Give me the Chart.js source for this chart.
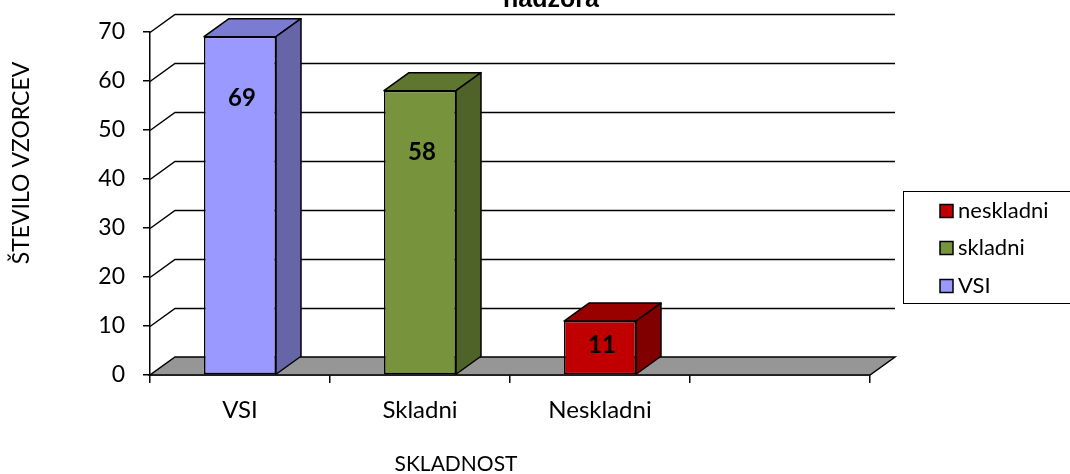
<!DOCTYPE html>
<html>
<head>
<meta charset="utf-8">
<script src="https://cdn.jsdelivr.net/npm/chart.js@4"></script>
<style>
  html, body { margin: 0; padding: 0; background: #fff; }
  #wrap { width: 1070px; height: 474px; position: relative; }
</style>
</head>
<body>
<div id="wrap"><canvas id="chart"></canvas></div>
<script>
// data
const categories = ["VSI", "Skladni", "Neskladni", ""];
const seriesNames = ["VSI", "skladni", "neskladni"];
const vsiValues = [69, null, null, null];
const skladniValues = [null, 58, null, null];
const neskladniValues = [null, null, 11, null];
const yTicks = [0, 10, 20, 30, 40, 50, 60, 70];

// styles (front, top, side)
const frontColors = ["#9999FF", "#77933C", "#C00000"];
const topColors = ["#7B7BD3", "#5F7630", "#990000"];
const sideColors = ["#6565A8", "#4F6228", "#800000"];

const DEPTH_X = 25;
const DEPTH_Y = 18;
const FONT = "Lato, 'Open Sans', sans-serif";

const threeD = {
    id: "threeD",
    beforeDatasetsDraw(chart) {
        const ctx = chart.ctx;
        const a = chart.chartArea;
        const y = chart.scales.y;
        ctx.save();
        // floor
        ctx.beginPath();
        ctx.moveTo(a.left, a.bottom);
        ctx.lineTo(a.right, a.bottom);
        ctx.lineTo(a.right + DEPTH_X, a.bottom - DEPTH_Y);
        ctx.lineTo(a.left + DEPTH_X, a.bottom - DEPTH_Y);
        ctx.closePath();
        ctx.fillStyle = "#969696";
        ctx.fill();
        ctx.strokeStyle = "#000";
        ctx.lineWidth = 1.5;
        ctx.stroke();
        // back wall grid + side wall diagonals
        yTicks.forEach((v) => {
            if (v === 0) return;
            const py = Math.round(y.getPixelForValue(v)) + 0.5;
            ctx.beginPath();
            ctx.moveTo(a.left, py);
            ctx.lineTo(a.left + DEPTH_X, py - DEPTH_Y);
            ctx.lineTo(a.right + DEPTH_X, py - DEPTH_Y);
            ctx.stroke();
        });
        ctx.restore();
    },
    afterDatasetsDraw(chart) {
        const ctx = chart.ctx;
        ctx.save();
        ctx.strokeStyle = "#000";
        ctx.lineWidth = 1.5;
        ctx.lineJoin = "round";
        chart.data.datasets.forEach((ds, di) => {
            const meta = chart.getDatasetMeta(di);
            meta.data.forEach((bar, i) => {
                if (ds.data[i] == null) return;
                const l = bar.x - bar.width / 2;
                const r = bar.x + bar.width / 2;
                const t = bar.y;
                const b = bar.base;
                // top face
                ctx.beginPath();
                ctx.moveTo(l, t);
                ctx.lineTo(l + DEPTH_X, t - DEPTH_Y);
                ctx.lineTo(r + DEPTH_X, t - DEPTH_Y);
                ctx.lineTo(r, t);
                ctx.closePath();
                ctx.fillStyle = topColors[di];
                ctx.fill();
                ctx.stroke();
                // side face
                ctx.beginPath();
                ctx.moveTo(r, t);
                ctx.lineTo(r + DEPTH_X, t - DEPTH_Y);
                ctx.lineTo(r + DEPTH_X, b - DEPTH_Y);
                ctx.lineTo(r, b);
                ctx.closePath();
                ctx.fillStyle = sideColors[di];
                ctx.fill();
                ctx.stroke();
                // value label
                ctx.fillStyle = "#000";
                ctx.font = "bold 24px " + FONT;
                ctx.textAlign = "center";
                ctx.textBaseline = "middle";
                const off = Math.min(62, (b - t) * 0.45);
                ctx.fillText(String(ds.data[i]), bar.x + 2, t + off);
            });
        });
        ctx.restore();
    },
    afterDraw(chart) {
        const ctx = chart.ctx;
        ctx.save();
        ctx.fillStyle = "#000";
        // title (second line, cut off at the top)
        ctx.font = "bold 25px 'Liberation Sans', Arial, sans-serif";
        ctx.textAlign = "center";
        ctx.textBaseline = "alphabetic";
        ctx.fillText("nadzora", 551, 7);
        // axis titles
        ctx.font = "21px " + FONT;
        ctx.textBaseline = "middle";
        ctx.fillText("SKLADNOST", 456, 464);
        ctx.translate(22, 163);
        ctx.rotate(-Math.PI / 2);
        ctx.font = "23px " + FONT;
        ctx.fillText("ŠTEVILO VZORCEV", 0, 0);
        ctx.restore();

        // legend (reverse order)
        ctx.save();
        ctx.strokeStyle = "#000";
        ctx.lineWidth = 1;
        ctx.strokeRect(903.5, 191.5, 200, 112);
        ctx.font = "22px " + FONT;
        ctx.textAlign = "left";
        ctx.textBaseline = "middle";
        const rows = [211, 248, 286];
        for (let k = 0; k < seriesNames.length; k++) {
            const di = seriesNames.length - 1 - k;
            const cy = rows[k];
            ctx.fillStyle = frontColors[di];
            ctx.fillRect(940, cy - 6.5, 13, 13);
            ctx.lineWidth = 1.5;
            ctx.strokeRect(940, cy - 6.5, 13, 13);
            ctx.fillStyle = "#000";
            ctx.fillText(seriesNames[di], 958, cy);
        }
        ctx.restore();
    },
};

const allValues = [vsiValues, skladniValues, neskladniValues];

new Chart(document.getElementById("chart").getContext("2d"), {
    type: "bar",
    data: {
        labels: categories,
        datasets: seriesNames.map((name, i) => ({
            label: name,
            data: allValues[i],
            backgroundColor: frontColors[i],
            borderColor: "#000",
            borderWidth: 1.5,
            borderSkipped: false,
            categoryPercentage: 0.4,
            barPercentage: 1,
        })),
    },
    options: {
        responsive: true,
        maintainAspectRatio: false,
        animation: false,
        layout: {
            padding: { top: 29, right: 200, left: 0, bottom: 0 },
        },
        plugins: {
            legend: { display: false },
            tooltip: { enabled: false },
        },
        scales: {
            x: {
                stacked: true,
                grid: {
                    offset: true,
                    drawOnChartArea: false,
                    tickLength: 8,
                    color: "#000",
                    lineWidth: 1.5,
                },
                border: { color: "#000", width: 1.5 },
                ticks: {
                    color: "#000",
                    font: { family: FONT, size: 24 },
                    padding: 13,
                    maxRotation: 0,
                },
                afterFit(scale) {
                    scale.height = 99;
                },
            },
            y: {
                stacked: true,
                min: 0,
                max: 70,
                grid: {
                    drawOnChartArea: false,
                    tickLength: 7,
                    color: "#000",
                    lineWidth: 1.5,
                },
                border: { color: "#000", width: 1.5 },
                ticks: {
                    stepSize: 10,
                    color: "#000",
                    font: { family: FONT, size: 23 },
                    padding: 18,
                },
                afterBuildTicks(scale) {
                    scale.ticks = yTicks.map((v) => ({ value: v }));
                },
                afterFit(scale) {
                    scale.width = 150;
                },
            },
        },
    },
    plugins: [threeD],
});
</script>
</body>
</html>
